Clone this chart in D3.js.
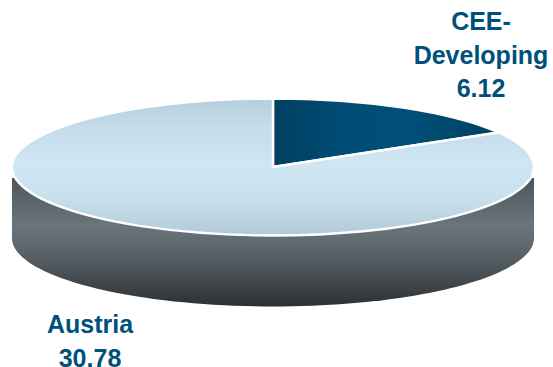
<!DOCTYPE html>
<html>
<head>
<meta charset="utf-8">
<script src="https://cdn.jsdelivr.net/npm/d3@7"></script>
<style>
html,body{margin:0;padding:0;background:#fff;overflow:hidden}
text{font-family:"Liberation Sans",Arial,sans-serif;font-weight:700;font-size:25px;fill:#00507c;text-anchor:middle}
</style>
</head>
<body>
<svg id="chart" width="553" height="367"></svg>
<script>
// Share of the total by region
const regions = ["CEE-Developing", "Austria"];
const shares = [6.12, 30.78];
const labelLines = [["CEE-", "Developing", "6.12"], ["Austria", "30.78"]];
const sliceFills = ["url(#sliceDark)", "url(#sliceLight)"];

const width = 553, height = 367;
const cx = 273, cy = 167, rx = 261, ry = 68.5, depth = 71;
const labelAnchors = [[481, 30], [90, 333]];
const lineHeight = 33.5;

const svg = d3.select("#chart");
const defs = svg.append("defs");

function gradient(id, x2, y2, stops) {
  const g = defs.append("linearGradient").attr("id", id)
    .attr("x1", 0).attr("y1", 0).attr("x2", x2).attr("y2", y2);
  stops.forEach(([o, c]) => g.append("stop").attr("offset", o).attr("stop-color", c));
}
gradient("wall", 0, 1, [[0, "#3b4145"], [0.1, "#4f585d"], [0.42, "#69757c"], [0.68, "#535c62"], [1, "#2c3032"]]);
gradient("sliceLight", 0, 1, [[0, "#b7cfdb"], [0.2, "#c4dce9"], [0.48, "#cfe6f3"], [0.72, "#c9e0ed"], [1, "#b2cad7"]]);
gradient("sliceDark", 1, 0, [[0, "#003f60"], [0.3, "#004c74"], [0.6, "#005079"], [1, "#003f60"]]);

defs.append("clipPath").attr("id", "wallClip")
  .append("rect").attr("x", 0).attr("y", cy + 11).attr("width", width).attr("height", height);

// Side wall of the disc: the lower half of the ellipse swept downward
const k = 0.5523;
const wall = d3.path();
wall.moveTo(cx - rx, cy);
wall.lineTo(cx - rx, cy + depth);
wall.bezierCurveTo(cx - rx, cy + depth + ry * k, cx - rx * k, cy + depth + ry, cx, cy + depth + ry);
wall.bezierCurveTo(cx + rx * k, cy + depth + ry, cx + rx, cy + depth + ry * k, cx + rx, cy + depth);
wall.lineTo(cx + rx, cy);
wall.closePath();
svg.append("path")
  .attr("d", wall.toString())
  .attr("fill", "url(#wall)")
  .attr("clip-path", "url(#wallClip)");

// Top face: a regular pie flattened into an ellipse
const pie = d3.pie().sort(null).value(d => d)(shares);
const arc = d3.arc().innerRadius(0).outerRadius(rx);
svg.append("g")
  .attr("transform", `translate(${cx},${cy}) scale(1,${ry / rx})`)
  .selectAll("path")
  .data(pie)
  .join("path")
  .attr("d", arc)
  .attr("fill", (d, i) => sliceFills[i])
  .attr("stroke", "#fff")
  .attr("stroke-width", 2.4)
  .attr("vector-effect", "non-scaling-stroke");

// Region names with their values
labelLines.forEach((lines, i) => {
  const t = svg.append("text").attr("aria-label", regions[i]);
  lines.forEach((line, j) => {
    t.append("tspan")
      .attr("x", labelAnchors[i][0])
      .attr("y", labelAnchors[i][1] + j * lineHeight)
      .text(line);
  });
});
</script>
</body>
</html>
